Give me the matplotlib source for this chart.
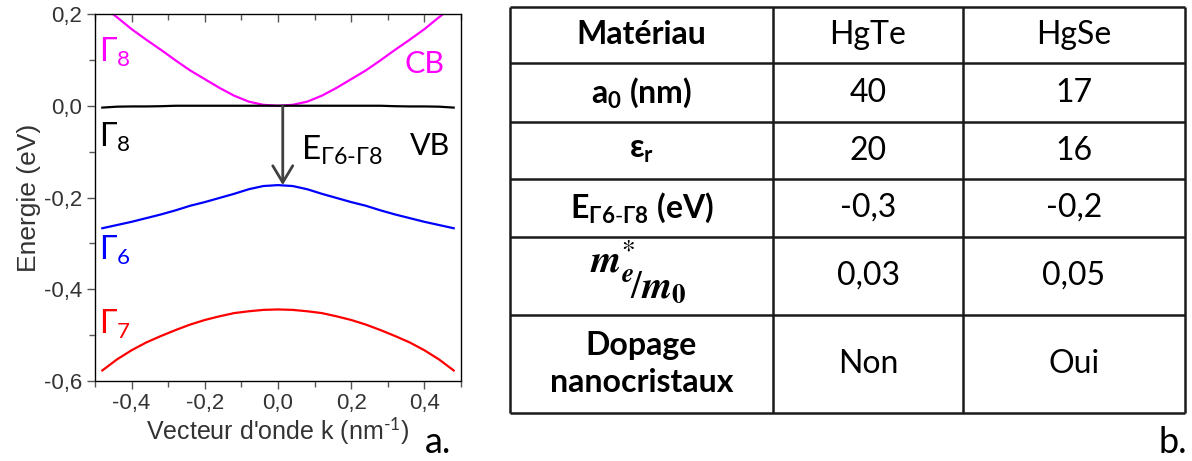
import numpy as np
import matplotlib.pyplot as plt
from matplotlib.ticker import MultipleLocator, FuncFormatter

plt.rcParams['font.family'] = ['Liberation Sans', 'DejaVu Sans']
plt.rcParams['mathtext.fontset'] = 'custom'
plt.rcParams['mathtext.rm'] = 'Lato'
plt.rcParams['mathtext.bf'] = 'Lato:bold'
plt.rcParams['mathtext.it'] = 'Lato:italic'

# band structure (k in nm^-1, E in eV)
k = [-0.48, -0.44, -0.40, -0.36, -0.32, -0.28, -0.24, -0.20, -0.16, -0.12, -0.08, -0.04,
     0.0, 0.04, 0.08, 0.12, 0.16, 0.20, 0.24, 0.28, 0.32, 0.36, 0.40, 0.44, 0.48]
cb_g8 = [0.217, 0.193, 0.167, 0.144, 0.122, 0.099, 0.077, 0.058, 0.039, 0.022, 0.009, 0.002,
         0.0, 0.002, 0.009, 0.022, 0.039, 0.058, 0.077, 0.099, 0.122, 0.144, 0.167, 0.193, 0.217]
vb_g8 = [-0.004, -0.002, -0.0015, -0.0015, -0.001, 0.0, 0.0, 0.0, 0.0, 0.0, 0.0, 0.0,
         0.0, 0.0, 0.0, 0.0, 0.0, 0.0, 0.0, 0.0, -0.001, -0.0015, -0.0015, -0.002, -0.004]
g6 = [-0.267, -0.260, -0.253, -0.245, -0.237, -0.228, -0.218, -0.210, -0.201, -0.192, -0.182, -0.175,
      -0.173, -0.175, -0.182, -0.192, -0.201, -0.210, -0.218, -0.228, -0.237, -0.245, -0.253, -0.260, -0.267]
g7 = [-0.577, -0.553, -0.533, -0.516, -0.502, -0.489, -0.477, -0.467, -0.459, -0.452, -0.448, -0.445,
      -0.444, -0.445, -0.448, -0.452, -0.459, -0.467, -0.477, -0.489, -0.502, -0.516, -0.533, -0.553, -0.577]
arrow_k = 0.013

# table contents
materials = ['HgTe', 'HgSe']
a0 = ['40', '17']
eps_r = ['20', '16']
gap = ['-0,3', '-0,2']
mass = ['0,03', '0,05']
doping = ['Non', 'Oui']

W, H = 1192, 461
fig = plt.figure(figsize=(W / 100, H / 100), dpi=100)

# ---- panel a ----
ax = fig.add_axes([95 / W, 1 - 381 / H, 366 / W, 367 / H])
ax.plot(k, cb_g8, color='#ff00ff', lw=1.6)
ax.plot(k, vb_g8, color='black', lw=1.6)
ax.plot(k, g6, color='#0000ff', lw=1.6)
ax.plot(k, g7, color='#ff0000', lw=1.6)
ax.annotate('', xy=(arrow_k, g6[12]), xytext=(arrow_k, vb_g8[12]),
            arrowprops=dict(arrowstyle='->,head_length=0.6,head_width=0.36', mutation_scale=20,
                            color='#404040', lw=2, shrinkA=0, shrinkB=0))
ax.set_xlim(-0.5, 0.5)
ax.set_ylim(-0.6, 0.2)

fmt = FuncFormatter(lambda v, p: f'{v + 0.0:.1f}'.replace('.', ','))
for a in (ax.xaxis, ax.yaxis):
    a.set_major_locator(MultipleLocator(0.2))
    a.set_minor_locator(MultipleLocator(0.1))
    a.set_major_formatter(fmt)
ax.tick_params(which='both', direction='out', colors='#555555', labelcolor='#333333',
               labelsize=16, width=1)
ax.tick_params(which='major', length=6, pad=3)
ax.tick_params(which='minor', length=4)
for s in ax.spines.values():
    s.set_color('#555555')
    s.set_linewidth(1)

top = ax.twiny()
top.set_xlim(ax.get_xlim())
top.xaxis.set_major_locator(MultipleLocator(0.2))
top.xaxis.set_minor_locator(MultipleLocator(0.1))
top.tick_params(which='both', direction='in', colors='#555555', labeltop=False, width=1)
top.tick_params(which='major', length=6)
top.tick_params(which='minor', length=4)

ax.set_ylabel('Energie (eV)', fontsize=19, color='#333333', labelpad=2)
ax.set_xlabel(r"Vecteur d'onde k (nm$^{\text{-}1}$)", fontsize=18, color='#333333', labelpad=1)

lab = dict(family=['Lato', 'DejaVu Sans'], va='baseline')
ax.text(-0.488, 0.096, 'Γ$_8$', color='#ff00ff', fontsize=23, **lab)
ax.text(-0.488, -0.089, 'Γ$_8$', color='black', fontsize=23, **lab)
ax.text(-0.488, -0.335, 'Γ$_6$', color='#0000ff', fontsize=23, **lab)
ax.text(-0.488, -0.498, 'Γ$_7$', color='#ff0000', fontsize=23, **lab)
ax.text(0.40, 0.072, 'CB', color='#ff00ff', fontsize=22, ha='center', **lab)
ax.text(0.415, -0.107, 'VB', color='black', fontsize=22, ha='center', **lab)
ax.text(0.064, -0.117, r'E$_{Γ6\text{-}Γ8}$', color='black', fontsize=24, ha='left', **lab)

fig.text(451 / W, 1 - 453 / H, 'a.', fontsize=26, ha='right', va='baseline',
         family=['Lato', 'DejaVu Sans'])
fig.text(1187 / W, 1 - 453 / H, 'b.', fontsize=26, ha='right', va='baseline',
         family=['Lato', 'DejaVu Sans'])

# ---- panel b : table ----
col_w = [263, 190, 222]
row_h = [56, 59, 57, 58, 78, 98]
tw, th = sum(col_w), sum(row_h)
tab = fig.add_axes([510 / W, 1 - (7 + th) / H, tw / W, th / H])
tab.set_xlim(0, tw)
tab.set_ylim(th, 0)
tab.axis('off')
xs = np.concatenate([[0], np.cumsum(col_w)])
ys = np.concatenate([[0], np.cumsum(row_h)])
tab.hlines(ys, 0, tw, color='#1a1a1a', lw=1.8, clip_on=False)
tab.vlines(xs, 0, th, color='#1a1a1a', lw=1.8, clip_on=False)
cx = (xs[:-1] + xs[1:]) / 2
cy = (ys[:-1] + ys[1:]) / 2

tfont = dict(family=['Lato', 'DejaVu Sans'], fontsize=23, ha='center', va='center')
row_labels = ['Matériau', r'a$_{\mathbf{0}}$ (nm)', r'ε$_{\mathbf{r}}$',
              r'E$_{\mathbf{Γ6}\text{-}\mathbf{Γ8}}$ (eV)', None, 'Dopage\nnanocristaux']
for i, t in enumerate(row_labels):
    if t is not None:
        tab.text(cx[0], cy[i], t, fontweight='bold', linespacing=1.3, **tfont)
tab.text(cx[0] - 6, cy[4] - 3, r'$\mathbfit{m}_{\mathbfit{e}}^{*}$', fontsize=28,
         math_fontfamily='stix', ha='right', va='baseline')
tab.text(cx[0] - 12, cy[4] + 22, r'$/\mathbfit{m}_{\mathbf{0}}$', fontsize=28,
         math_fontfamily='stix', ha='left', va='baseline')

for j in range(2):
    for i, vals in enumerate([materials, a0, eps_r, gap, mass, doping]):
        tab.text(cx[j + 1], cy[i], vals[j], **tfont)

fig.savefig('out.png', dpi=100)
